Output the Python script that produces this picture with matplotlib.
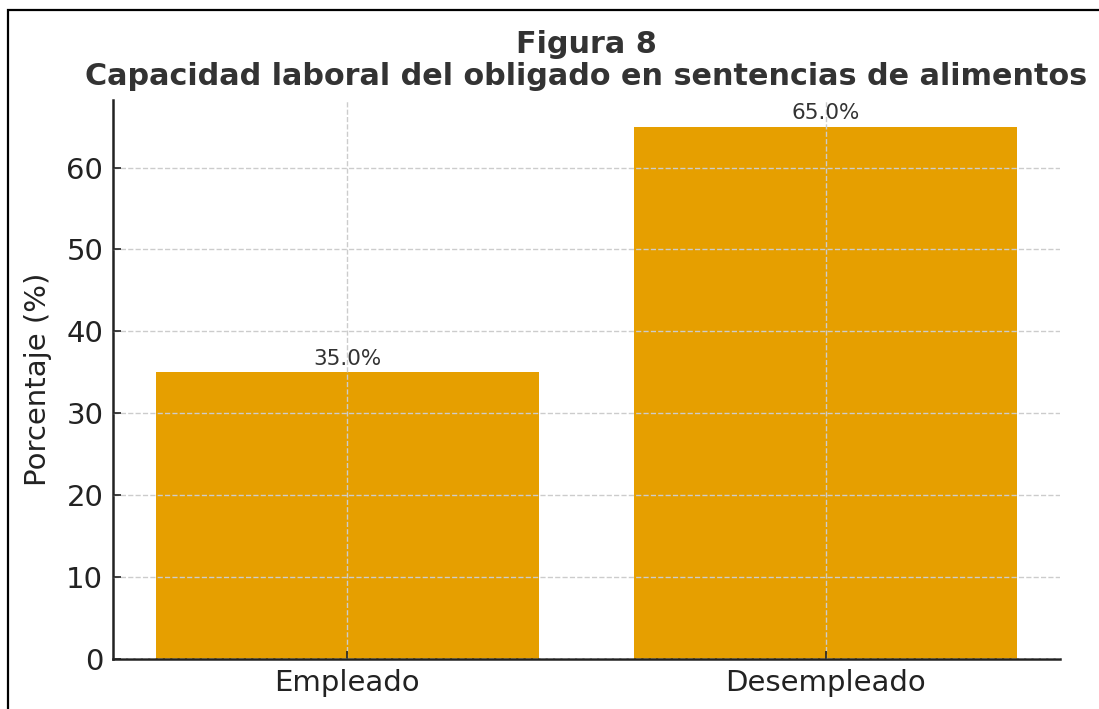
import matplotlib
matplotlib.use("Agg")
import matplotlib.pyplot as plt
from matplotlib.patches import Rectangle

categories = ["Empleado", "Desempleado"]
values = [35.0, 65.0]
title = "Figura 8\nCapacidad laboral del obligado en sentencias de alimentos"
ylabel = "Porcentaje (%)"

fig = plt.figure(figsize=(10.99, 7.09), dpi=100)
ax = fig.add_axes([113/1099, 1-659/709, (1060-113)/1099, (659-100)/709])

bars = ax.bar(categories, values, width=0.8, color="#E69F00", zorder=1)
for b, v in zip(bars, values):
    ax.text(b.get_x() + b.get_width()/2, v + 0.4, f"{v:.1f}%", ha="center", va="bottom",
            fontsize=15.5, color="#333333", zorder=3)

ax.grid(True, linestyle="--", color="#cccccc", linewidth=1, zorder=2)
ax.set_axisbelow(False)
for s in ["top", "right"]:
    ax.spines[s].set_visible(False)
for s in ["left", "bottom"]:
    ax.spines[s].set_color("#222222")
    ax.spines[s].set_linewidth(1.8)
ax.tick_params(axis="both", labelsize=21, colors="#222222", length=6, width=1.2,
               direction="in", pad=7)
ax.set_ylabel(ylabel, fontsize=21, color="#222222", labelpad=10)
ax.set_title(title, fontsize=21.8, fontweight="bold", color="#333333", pad=11,
             linespacing=1.1)

fig.patches.append(Rectangle((8/1099, -0.1), 1.2, 1 + 0.1 - 10/709, transform=fig.transFigure,
                             fill=False, edgecolor="black", linewidth=1.6, zorder=10))

fig.savefig("out.png", dpi=100)
